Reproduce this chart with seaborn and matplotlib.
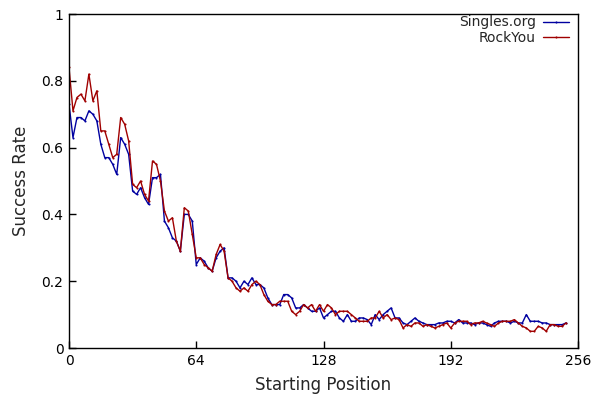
import matplotlib
matplotlib.use("Agg")
import matplotlib.pyplot as plt
import numpy as np
import pandas as pd
import seaborn as sns

# ---- data ----
positions = list(range(0, 251, 2))
singles = [
    0.73, 0.63, 0.69, 0.69, 0.68, 0.71, 0.70, 0.68, 0.61, 0.57,
    0.57, 0.55, 0.52, 0.63, 0.61, 0.58, 0.47, 0.46, 0.48, 0.45,
    0.43, 0.51, 0.51, 0.52, 0.38, 0.36, 0.33, 0.32, 0.29, 0.40,
    0.40, 0.38, 0.25, 0.27, 0.26, 0.24, 0.23, 0.27, 0.29, 0.30,
    0.21, 0.21, 0.20, 0.18, 0.20, 0.19, 0.21, 0.19, 0.19, 0.18,
    0.15, 0.13, 0.13, 0.13, 0.16, 0.16, 0.15, 0.12, 0.12, 0.13,
    0.12, 0.11, 0.11, 0.12, 0.09, 0.10, 0.11, 0.11, 0.09, 0.08,
    0.10, 0.08, 0.08, 0.09, 0.09, 0.085, 0.07, 0.10, 0.085, 0.10,
    0.11, 0.12, 0.09, 0.09, 0.075, 0.07, 0.08, 0.09, 0.08, 0.075,
    0.07, 0.07, 0.07, 0.075, 0.075, 0.08, 0.08, 0.075, 0.085, 0.075,
    0.075, 0.075, 0.07, 0.075, 0.075, 0.07, 0.065, 0.075, 0.08, 0.08,
    0.08, 0.075, 0.08, 0.075, 0.075, 0.10, 0.08, 0.08, 0.08, 0.075,
    0.075, 0.07, 0.07, 0.07, 0.07, 0.075,
]
rockyou = [
    0.84, 0.71, 0.75, 0.76, 0.74, 0.82, 0.74, 0.77, 0.65, 0.65,
    0.61, 0.57, 0.58, 0.69, 0.67, 0.62, 0.49, 0.48, 0.50, 0.46,
    0.44, 0.56, 0.55, 0.50, 0.41, 0.38, 0.39, 0.32, 0.29, 0.42,
    0.41, 0.34, 0.27, 0.27, 0.25, 0.24, 0.23, 0.28, 0.31, 0.29,
    0.21, 0.20, 0.18, 0.17, 0.18, 0.17, 0.19, 0.20, 0.19, 0.16,
    0.14, 0.13, 0.13, 0.14, 0.14, 0.14, 0.11, 0.10, 0.11, 0.13,
    0.12, 0.13, 0.11, 0.13, 0.11, 0.13, 0.12, 0.10, 0.11, 0.11,
    0.11, 0.10, 0.09, 0.08, 0.08, 0.08, 0.09, 0.09, 0.11, 0.09,
    0.10, 0.085, 0.09, 0.085, 0.06, 0.07, 0.065, 0.075, 0.075, 0.065,
    0.07, 0.065, 0.06, 0.065, 0.07, 0.075, 0.06, 0.075, 0.08, 0.08,
    0.08, 0.07, 0.075, 0.075, 0.08, 0.075, 0.07, 0.065, 0.075, 0.08,
    0.08, 0.08, 0.085, 0.075, 0.065, 0.06, 0.05, 0.05, 0.065, 0.06,
    0.05, 0.07, 0.07, 0.065, 0.065, 0.075,
]
series_names = ["Singles.org", "RockYou"]
series_colors = ["#0000a0", "#a00000"]
x_ticks = [0, 64, 128, 192, 256]
y_ticks = [0, 0.2, 0.4, 0.6, 0.8, 1]
y_tick_labels = ["0", "0.2", "0.4", "0.6", "0.8", "1"]

n = len(positions)
df = pd.DataFrame({
    "pos": positions * 2,
    "rate": singles + rockyou,
    "series": [series_names[0]] * n + [series_names[1]] * n,
})

sns.set_theme(style="ticks")
plt.rcParams["font.family"] = ["DejaVu Sans"]

fig = plt.figure(figsize=(6.01, 3.98), dpi=100)
ax = fig.add_axes([69 / 601, 50 / 398, 509 / 601, 334 / 398])

sns.lineplot(
    data=df, x="pos", y="rate", hue="series",
    hue_order=series_names,
    palette=dict(zip(series_names, series_colors)),
    marker=".", markersize=3, markeredgewidth=0,
    linewidth=1.0, ax=ax, legend=True,
)

ax.set_xlim(0, 256)
ax.set_ylim(0, 1)
ax.set_xticks(x_ticks)
ax.set_xticklabels([str(t) for t in x_ticks])
ax.set_yticks(y_ticks)
ax.set_yticklabels(y_tick_labels)
ax.tick_params(direction="in", length=5, width=1, top=False, right=False,
               labelsize=10, colors="black", pad=4)
for sp in ax.spines.values():
    sp.set_visible(True)
    sp.set_color("black")
    sp.set_linewidth(1)

ax.set_xlabel("Starting Position", fontsize=12, labelpad=6)
ax.set_ylabel("Success Rate", fontsize=12, labelpad=8)

handles, labels = ax.get_legend_handles_labels()
ax.legend(handles, labels, loc="upper right", bbox_to_anchor=(0.985, 1.0),
          frameon=False, markerfirst=False,
          fontsize=10, handlelength=1.9, labelspacing=0.1, borderaxespad=0.0,
          borderpad=0.1, handletextpad=0.5)

fig.savefig("out.png", dpi=100)
